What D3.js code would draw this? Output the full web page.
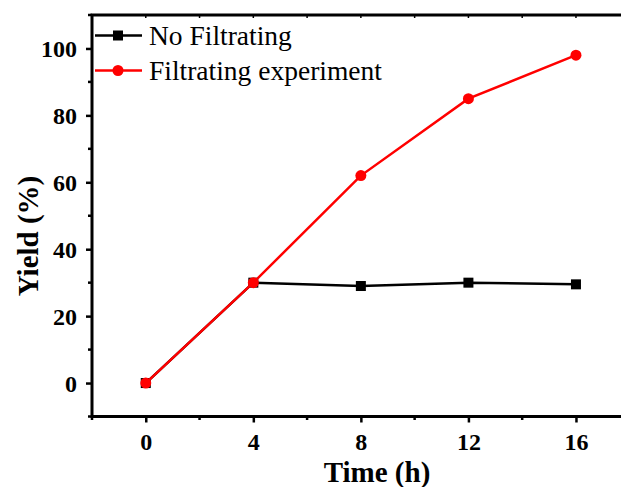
<!DOCTYPE html>
<html>
<head>
<meta charset="utf-8">
<script src="https://cdn.jsdelivr.net/npm/d3@7"></script>
<style>
  body { margin: 0; background: #fff; }
  svg { display: block; }
  text { font-family: "Liberation Serif", "Times New Roman", serif; }
</style>
</head>
<body>
<svg id="chart" width="621" height="487"></svg>
<script>
const times = [0, 4, 8, 12, 16]
const noFiltrating = [0, 30, 29, 30, 29.5]
const filtrating = [0, 30, 62, 85, 98]
const xTicks = [0, 4, 8, 12, 16]
const yTicks = [0, 20, 40, 60, 80, 100]
const seriesNames = ['No Filtrating', 'Filtrating experiment']

const svg = d3.select('#chart')
// plot area runs past the right edge of the picture, as in the original
const xScale = d3.scaleLinear().domain([-2, 19.2]).range([92, 662])
const yScale = d3.scaleLinear().domain([-10, 110]).range([416.5, 15])

const g = svg.append('g')

// minor ticks
const xMinor = d3.range(-2, 18.1, 2).filter(v => v % 4 !== 0)
const yMinor = d3.range(-10, 110.1, 10).filter(v => v % 20 !== 0)

// left axis
const yAxis = d3.axisLeft(yScale).tickValues(yTicks).tickSize(6).tickSizeOuter(0)
const ya = g.append('g').attr('transform', 'translate(92,0)').call(yAxis)
ya.select('.domain').remove()
ya.selectAll('line').attr('stroke-width', 2.5)
ya.selectAll('text').attr('x', -15).attr('dy', '0.35em')
  .style('font-size', '24px').style('font-weight', 'bold').attr('fill', '#000')
g.append('g').selectAll('line').data(yMinor).join('line')
  .attr('x1', 92).attr('x2', 88).attr('y1', d => yScale(d)).attr('y2', d => yScale(d))
  .attr('stroke', '#000').attr('stroke-width', 2.5)

// bottom axis
const xAxis = d3.axisBottom(xScale).tickValues(xTicks).tickSize(6).tickSizeOuter(0)
const xa = g.append('g').attr('transform', 'translate(0,416.5)').call(xAxis)
xa.select('.domain').remove()
xa.selectAll('line').attr('stroke-width', 2.5)
xa.selectAll('text').attr('y', 16).attr('dy', '0.71em')
  .style('font-size', '24px').style('font-weight', 'bold').attr('fill', '#000')
g.append('g').selectAll('line').data(xMinor).join('line')
  .attr('x1', d => xScale(d)).attr('x2', d => xScale(d)).attr('y1', 416.5).attr('y2', 420)
  .attr('stroke', '#000').attr('stroke-width', 2.5)

// top ticks (inward, small)
g.append('g').selectAll('line').data(xTicks.concat(xMinor)).join('line')
  .attr('x1', d => xScale(d)).attr('x2', d => xScale(d)).attr('y1', 15).attr('y2', 18)
  .attr('stroke', '#000').attr('stroke-width', 1.5)

// frame
g.append('rect').attr('x', 92).attr('y', 15).attr('width', 570).attr('height', 401.5)
  .attr('fill', 'none').attr('stroke', '#000').attr('stroke-width', 3)

// axis titles
g.append('text').attr('x', 377).attr('y', 482).attr('text-anchor', 'middle')
  .style('font-size', '29px').style('font-weight', 'bold').text('Time (h)')
g.append('text').attr('transform', 'translate(38,236) rotate(-90)').attr('text-anchor', 'middle')
  .style('font-size', '29px').style('font-weight', 'bold').text('Yield (%)')

const line = d3.line().x((d, i) => xScale(times[i])).y(d => yScale(d))

// black series
g.append('path').datum(noFiltrating).attr('d', line)
  .attr('fill', 'none').attr('stroke', '#000').attr('stroke-width', 2.5)
g.append('g').selectAll('rect').data(noFiltrating).join('rect')
  .attr('x', (d, i) => xScale(times[i]) - 5).attr('y', d => yScale(d) - 5)
  .attr('width', 10).attr('height', 10).attr('fill', '#000')

// red series
g.append('path').datum(filtrating).attr('d', line)
  .attr('fill', 'none').attr('stroke', '#ff0000').attr('stroke-width', 2.5)
g.append('g').selectAll('circle').data(filtrating).join('circle')
  .attr('cx', (d, i) => xScale(times[i])).attr('cy', d => yScale(d))
  .attr('r', 5.5).attr('fill', '#ff0000')

// legend
const legend = g.append('g')
seriesNames.forEach((name, i) => {
  const y = 35.5 + i * 35
  const col = i === 0 ? '#000' : '#ff0000'
  legend.append('line').attr('x1', 95).attr('x2', 142).attr('y1', y).attr('y2', y)
    .attr('stroke', col).attr('stroke-width', 2.5)
  if (i === 0) {
    legend.append('rect').attr('x', 113).attr('y', y - 5).attr('width', 10).attr('height', 10).attr('fill', col)
  } else {
    legend.append('circle').attr('cx', 118).attr('cy', y).attr('r', 5.5).attr('fill', col)
  }
  legend.append('text').attr('x', 149).attr('y', y).attr('dy', '0.35em')
    .style('font-size', '27.5px').text(name)
})
</script>
</body>
</html>
